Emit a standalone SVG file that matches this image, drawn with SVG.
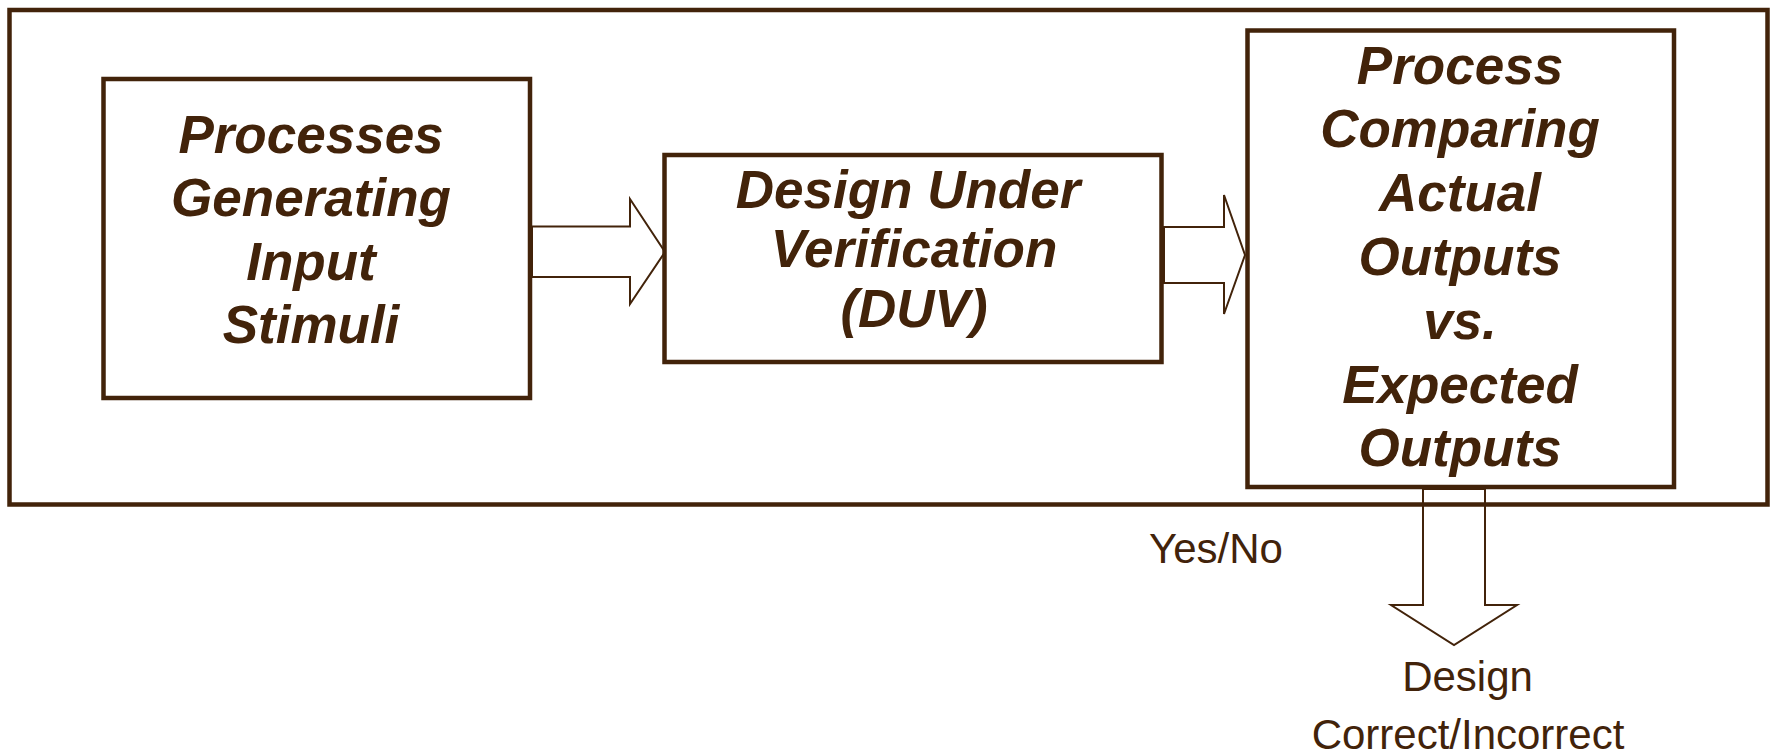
<svg xmlns="http://www.w3.org/2000/svg" width="1773" height="755" viewBox="0 0 1773 755">
  <style>
    .box { fill: none; stroke: #42230a; stroke-width: 4.5; }
    .frame { fill: none; stroke: #42230a; stroke-width: 4.5; }
    .arrow { fill: none; stroke: #42230a; stroke-width: 2; stroke-linejoin: miter; }
    .title { font-family: "Liberation Sans", Arial, sans-serif; font-weight: bold; font-style: italic; font-size: 53px; fill: #42230a; text-anchor: middle; }
    .label { font-family: "Liberation Sans", Arial, sans-serif; font-size: 42px; fill: #42230a; }
  </style>
  <rect width="1773" height="755" fill="#ffffff"/>

  <!-- enclosing testbench frame -->
  <g id="testbench">
    <rect class="frame" x="9.5" y="10" width="1758" height="494.5"/>
  </g>

  <!-- block-arrow connectors -->
  <g id="connectors">
    <polygon class="arrow" points="532,226.5 630,226.5 630,199 665,252 630,304 630,277 532,277"/>
    <polygon class="arrow" points="1164,227 1224,227 1224,195 1245,255 1224,314 1224,283 1164,283"/>
    <polygon class="arrow" points="1423,489 1423,605 1391,605 1454,645 1517,605 1485,605 1485,489"/>
  </g>

  <g id="stimuli">
    <rect class="box" x="103.5" y="79" width="426.5" height="319"/>
    <text class="title" x="311" y="152.5">Processes</text>
    <text class="title" x="311" y="216">Generating</text>
    <text class="title" x="311" y="279.5">Input</text>
    <text class="title" x="311" y="343">Stimuli</text>
  </g>

  <g id="duv">
    <rect class="box" x="664.5" y="155" width="497" height="207"/>
    <text class="title" x="908" y="207.5">Design Under</text>
    <text class="title" x="914" y="267">Verification</text>
    <text class="title" x="914" y="326.5">(DUV)</text>
  </g>

  <g id="checker">
    <rect class="box" x="1247.5" y="30.5" width="426.5" height="456.5"/>
    <text class="title" x="1460" y="83.5">Process</text>
    <text class="title" x="1460" y="147.3">Comparing</text>
    <text class="title" x="1460" y="211.1">Actual</text>
    <text class="title" x="1460" y="274.9">Outputs</text>
    <text class="title" x="1460" y="338.7">vs.</text>
    <text class="title" x="1460" y="402.5">Expected</text>
    <text class="title" x="1460" y="466.3">Outputs</text>
  </g>

  <g id="verdict">
    <text class="label" x="1149" y="563">Yes/No</text>
    <text class="label" x="1467.5" y="691" text-anchor="middle">Design</text>
    <text class="label" x="1468" y="749" text-anchor="middle">Correct/Incorrect</text>
  </g>
</svg>
